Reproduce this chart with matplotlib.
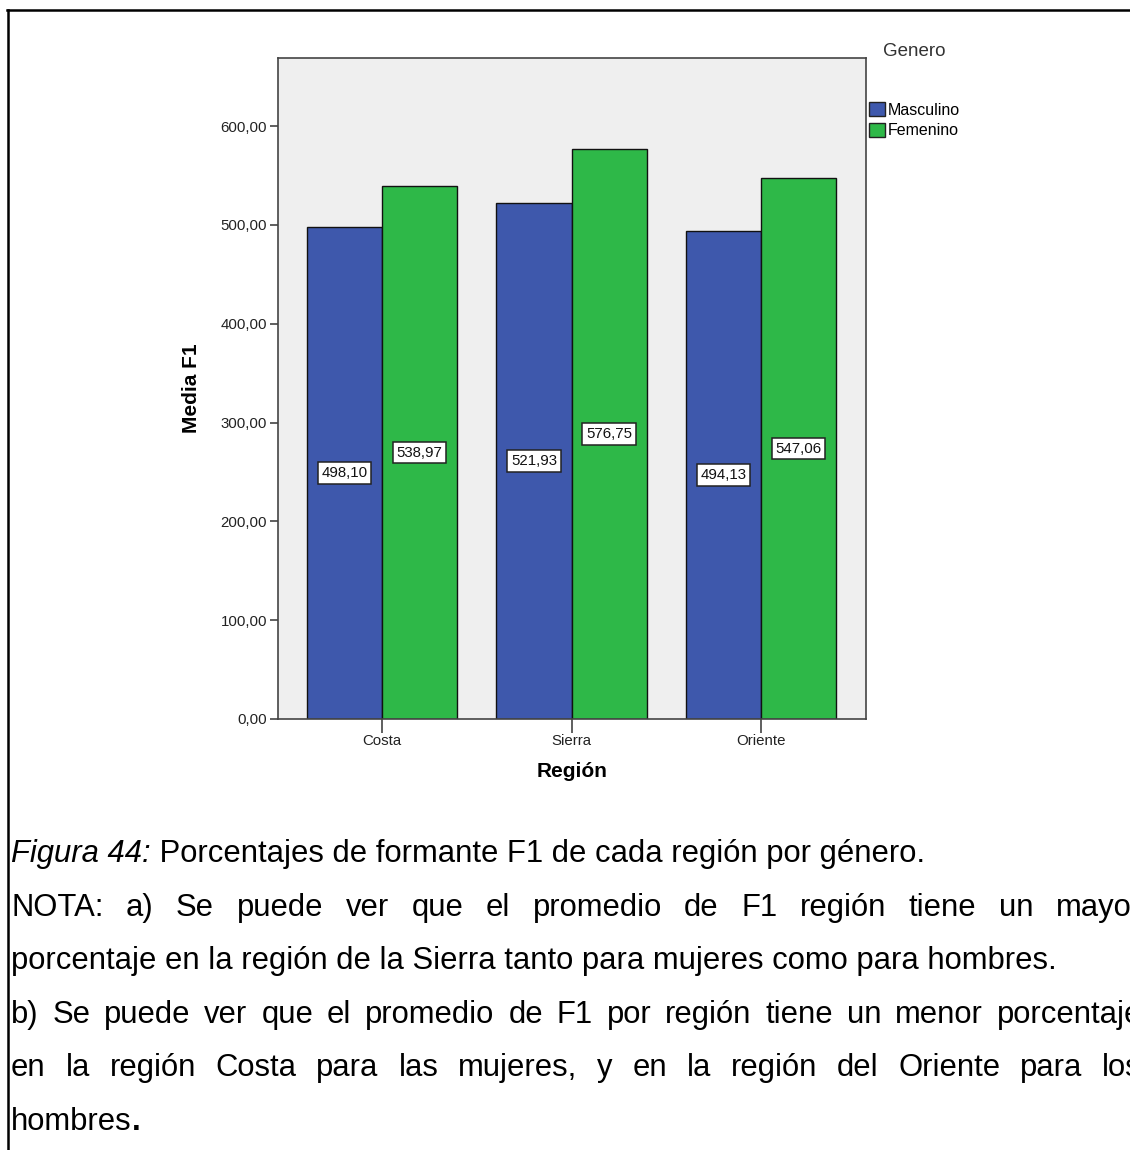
import matplotlib
matplotlib.use("Agg")
import matplotlib.pyplot as plt
from matplotlib.patches import Patch
from matplotlib.lines import Line2D

# ---- data ----
regions = ["Costa", "Sierra", "Oriente"]
masculino = [498.10, 521.93, 494.13]
femenino = [538.97, 576.75, 547.06]
series_names = ["Masculino", "Femenino"]
yticks = [0, 100, 200, 300, 400, 500, 600]

caption_lines = [
    "porcentaje en la región de la Sierra tanto para mujeres como para hombres.",
]
note_a = "NOTA: a) Se puede ver que el promedio de F1 región tiene un mayor"
note_b1 = "b) Se puede ver que el promedio de F1 por región tiene un menor porcentaje"
note_b2 = "en la región Costa para las mujeres, y en la región del Oriente para los"

W, H = 1130, 1150
BLUE = "#3E58AC"
GREEN = "#2EB848"
BG = "#EFEFEF"
AXC = "#444444"

plt.rcParams["font.family"] = ["Liberation Sans", "DejaVu Sans"]

fig = plt.figure(figsize=(W / 100, H / 100), dpi=100)

def fx(px):
    return px / W

def fy(py):
    return 1 - py / H

ax = fig.add_axes([fx(278), fy(719), fx(866) - fx(278), fy(58) - fy(719)])
ax.set_facecolor(BG)

x = list(range(len(regions)))
bw = 0.396
xb = [v - bw / 2 for v in x]
xg = [v + bw / 2 for v in x]
ax.bar(xb, masculino, width=bw, color=BLUE, edgecolor="#111111", linewidth=1.0, zorder=2)
ax.bar(xg, femenino, width=bw, color=GREEN, edgecolor="#111111", linewidth=1.0, zorder=2)

for xs, vals in ((xb, masculino), (xg, femenino)):
    for xi, v in zip(xs, vals):
        ax.text(xi, v / 2, f"{v:.2f}".replace(".", ","), ha="center", va="center",
                fontsize=10.8, color="#111111", zorder=3,
                bbox=dict(boxstyle="square,pad=0.25", fc="white", ec="#222222", lw=1.1))

ax.set_xlim(-0.549, 2.554)
ax.set_ylim(0, 669)
ax.set_yticks(yticks)
ax.set_yticklabels([f"{t:.2f}".replace(".", ",") for t in yticks], fontsize=10.8, color="#222222")
ax.set_xticks(x)
ax.set_xticklabels(regions, fontsize=10.8, color="#222222")
ax.tick_params(axis="y", length=6, width=1.2, color=AXC, pad=2)
ax.tick_params(axis="x", length=10, width=1.2, color=AXC, pad=1)
for s in ax.spines.values():
    s.set_color(AXC)
    s.set_linewidth(1.2)

ax.set_ylabel("Media F1", fontsize=15, fontweight="bold", labelpad=14)
ax.set_xlabel("Región", fontsize=15, fontweight="bold", labelpad=10)

# legend
fig.text(fx(883), fy(52), "Genero", fontsize=13.5, color="#333333", ha="left", va="center")
handles = [Patch(facecolor=BLUE, edgecolor="#222222", lw=1.0),
           Patch(facecolor=GREEN, edgecolor="#222222", lw=1.0)]
fig.legend(handles, series_names, loc="upper left", bbox_to_anchor=(fx(869), fy(102)),
           frameon=False, fontsize=11.5, handlelength=1.0, handleheight=1.0,
           handletextpad=0.2, labelspacing=0.32, borderpad=0, borderaxespad=0)

# frame lines of the page
fig.add_artist(Line2D([fx(8), fx(8)], [fy(10), 0], color="black", lw=1.8))
fig.add_artist(Line2D([fx(7), 1], [fy(10), fy(10)], color="black", lw=1.8))

# ---- caption text ----
CFS = 22.3
renderer = fig.canvas.get_renderer()
base0 = 862
step = 53.6
left_px = 11

def width_px(t):
    return t.get_window_extent(renderer).width

def put(px, line, s, **kw):
    t = fig.text(fx(px), fy(base0 + step * line), s, fontsize=CFS, ha="left",
                 va="baseline", color="black", **kw)
    return t

def justified(line, s, right_px):
    words = s.split(" ")
    objs = [put(0, line, w) for w in words]
    widths = [width_px(o) for o in objs]
    gap = (right_px - left_px - sum(widths)) / (len(words) - 1)
    cur = left_px
    for o, w in zip(objs, widths):
        o.set_x(fx(cur))
        cur += w + gap

t1 = put(left_px, 0, "Figura 44:", style="italic")
w1 = width_px(t1)
put(left_px + w1, 0, " Porcentajes de formante F1 de cada región por género.")
justified(1, note_a, 1142)
put(left_px, 2, caption_lines[0])
justified(3, note_b1, 1142)
justified(4, note_b2, 1142)
t6 = put(left_px, 5, "hombres")
put(left_px + width_px(t6), 5, ".", fontweight="bold")

fig.savefig("out.png", dpi=100)
